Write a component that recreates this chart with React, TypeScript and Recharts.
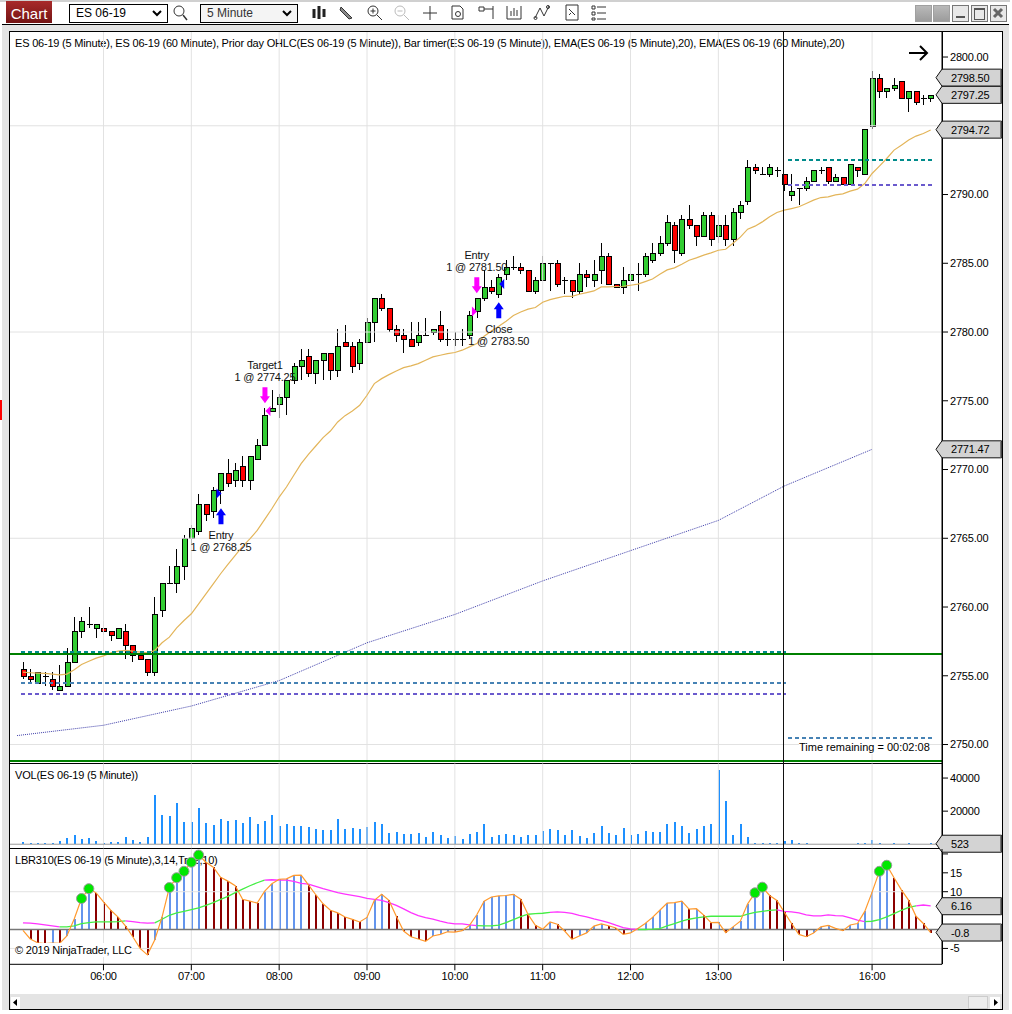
import React from "react";
import { ComposedChart, Bar, Line, XAxis, YAxis, ReferenceLine, ReferenceDot, Cell } from "recharts";

const opens = [2755.5,2755,2754.5,2755,2754.75,2754,2754.25,2756,2758.25,2758.75,2758.5,2758.5,2758.25,2757.75,2758.25,2757.25,2756.5,2756.25,2755.25,2759.75,2761.75,2761.75,2763,2765,2765.5,2767.5,2767,2768.5,2769.75,2769.25,2770.25,2769.25,2770.75,2771.75,2774.25,2774.75,2775.25,2776.5,2777.5,2778.25,2777,2778,2778.5,2777.25,2779.25,2779,2777.75,2779.25,2780.75,2782.5,2781.75,2780.25,2779.75,2779.5,2779.25,2779.75,2780,2780.5,2779.5,2779.5,2779.5,2779.75,2781.5,2782.5,2783.25,2782.75,2784.25,2784.75,2784.75,2784.5,2783,2783.75,2785,2785,2783.75,2783.75,2783,2784.25,2783.75,2784.5,2785.5,2783.5,2783.25,2783.75,2784.25,2784.25,2785.25,2785.75,2786.5,2787.75,2785.75,2788.25,2787.75,2787,2788.5,2787,2787.75,2786.75,2788.75,2789.5,2792,2791.5,2791.5,2791.75,2791.5,2790,2790.5,2790.5,2791,2791.75,2792,2791,2791.25,2790.75,2792,2791.5,2795,2798.5,2797.5,2797.75,2798.25,2797,2797.5,2797,2797];
const highs = [2756,2755.5,2755.25,2755.25,2755.25,2755.75,2757,2759.25,2759.25,2760,2758.75,2759,2758.25,2758.5,2758.75,2757.25,2756.5,2756.25,2760.75,2761.75,2763,2764.25,2765.25,2766,2768.25,2767.5,2768.75,2769.75,2770.75,2770.5,2771,2771,2772.25,2774.5,2775.75,2775.5,2776.5,2777.75,2778.75,2778.75,2778,2778.5,2778.5,2780.25,2780.5,2779.25,2779.5,2781,2782.5,2782.75,2781.75,2780.5,2780.25,2780.75,2780.75,2781,2780.25,2781.5,2780.25,2780,2780.25,2781.5,2782.5,2784.5,2783.75,2784.25,2785.25,2785.5,2785,2784.5,2784,2785.5,2785,2785.25,2784,2783.75,2785,2784.5,2785.25,2786.5,2785.75,2783.5,2784.75,2785,2785,2785.75,2786.5,2787,2788.5,2788,2788.5,2789.25,2787.75,2788.75,2788.75,2788.5,2788.5,2789,2789.5,2792.5,2792.25,2792,2792.25,2792,2791.5,2791.5,2790.5,2791.25,2791.75,2792,2792,2791.5,2791.25,2792.25,2792,2794.75,2799,2798.75,2797.75,2798.5,2798.25,2797.5,2797.5,2797.25,2797.25];
const lows = [2754.75,2754.5,2754.5,2754.25,2754,2754,2754.25,2756,2757.75,2758.5,2757.75,2758,2757.5,2757.75,2756.25,2756,2756.25,2755,2755,2759.25,2761.75,2761,2762,2764.5,2765.25,2766.25,2766.5,2767.5,2768.75,2768.75,2768.75,2768.5,2770.75,2771.75,2774.25,2773.75,2774,2776.25,2776.5,2776.75,2776.25,2776.5,2776.5,2776.75,2779,2777,2777.25,2779.25,2779.25,2781.5,2780,2779.25,2778.5,2779,2779,2779.75,2779.75,2779.25,2779,2779,2779,2779.5,2781,2782.25,2782.75,2782.5,2783.75,2784.5,2784.25,2783,2782.75,2783.75,2783,2783.25,2782.75,2782.5,2782.75,2783.25,2783.25,2783.5,2783.5,2783.25,2782.75,2782.75,2783,2784,2785,2785.5,2786.25,2785,2785.5,2787.5,2786.25,2787,2786.25,2786.5,2786.25,2786.25,2788.25,2789.25,2791.5,2791.5,2791.25,2791.25,2790.25,2789.5,2789.25,2790.25,2791,2791.5,2790.75,2791,2790.75,2790.75,2791.25,2791.5,2794.75,2797,2797,2797.5,2797,2796,2796.5,2796.5,2796.75];
const closes = [2755,2754.75,2755.25,2755,2754.25,2754.25,2756,2758.25,2759,2758.75,2758.75,2758.25,2758,2758.5,2757.25,2756.5,2756.25,2755.25,2759.5,2761.75,2761.75,2763,2765,2765.75,2767.5,2766.75,2768.5,2769.75,2769,2770,2769.25,2771,2771.75,2774,2774.5,2775.25,2776.5,2777.5,2778,2777,2778,2778.5,2777.25,2779,2779,2777.5,2779.25,2780.75,2782.5,2781.75,2780.25,2779.75,2779.5,2779,2779.75,2779.75,2780.25,2779.5,2779.5,2779.5,2779.5,2781.25,2782.5,2783.25,2783,2784,2784.75,2784.75,2784.5,2783,2783.75,2785,2785,2783.5,2783.75,2783,2784.25,2784,2784.25,2785.5,2783.5,2783.25,2783.75,2784.25,2784.25,2785.5,2785.75,2786.5,2788,2786,2788.25,2787.75,2787,2788.5,2786.75,2787.75,2786.75,2788.75,2789.25,2792,2791.75,2791.5,2792,2791.75,2790.75,2790.25,2790.5,2791,2791.75,2791.75,2791,2791.25,2790.75,2792.25,2791.75,2794.75,2798.5,2797.5,2797.75,2798,2797,2797.5,2796.75,2797,2797.25];
const ema5 = [2755.26,2755.22,2755.19,2755.17,2755.12,2755.07,2755.12,2755.44,2755.82,2756.06,2756.28,2756.45,2756.67,2756.79,2756.84,2756.79,2756.72,2756.67,2756.84,2757.4,2757.81,2758.49,2759.02,2759.51,2760.23,2760.96,2761.69,2762.42,2763.1,2763.75,2764.41,2764.96,2765.57,2766.35,2767.15,2768,2768.73,2769.58,2770.43,2771.11,2771.71,2772.32,2772.8,2773.46,2773.92,2774.26,2774.67,2775.4,2776.25,2776.61,2776.9,2777.17,2777.41,2777.54,2777.7,2777.95,2778.19,2778.31,2778.43,2778.51,2778.68,2778.92,2779.16,2779.69,2780.08,2780.42,2780.78,2781.2,2781.46,2781.66,2781.78,2782.17,2782.36,2782.48,2782.6,2782.6,2782.75,2782.87,2782.99,2783.28,2783.28,2783.31,2783.33,2783.4,2783.48,2783.67,2783.86,2784.2,2784.52,2784.67,2784.93,2785.22,2785.39,2785.59,2785.76,2785.95,2786.02,2786.46,2786.9,2787.48,2787.7,2788.01,2788.38,2788.69,2788.86,2788.98,2789.11,2789.35,2789.59,2789.78,2789.83,2789.98,2790.05,2790.25,2790.39,2790.8,2791.53,2792.07,2792.62,2793.23,2793.59,2793.96,2794.25,2794.44,2794.69];
const ema60Idx = [-0.8,11,23,35,47,59,71,83,95,104,116];
const ema60Val = [2750.65,2751.4,2752.8,2754.65,2757.4,2759.46,2761.9,2764.1,2766.3,2768.8,2771.47];
const volume = [1400,800,800,800,800,2000,3800,5600,3200,3800,2000,800,1400,1400,4400,2600,1400,4400,29600,17600,17000,24800,13400,13400,21800,12800,11600,15200,14000,14600,12800,16400,12200,14000,17600,11000,12200,11000,11000,10400,9200,8600,8600,15200,9200,9800,9200,10400,13400,12200,6800,7400,6200,6200,6800,4400,7400,5600,3800,5000,3200,6200,7400,12200,4400,5600,6200,5600,4400,5600,5600,8000,9200,8600,5600,8600,5000,3800,6800,11000,6800,5600,9800,5600,6200,8000,7400,7400,12000,13400,11000,6800,9200,11000,12200,44600,26000,5600,12200,4400,800,800,800,800,2000,2400,800,800,400,400,400,400,300,400,500,500,2600,800,400,800,400,800,400,400,523];
const lbr = [-0.2,-2.5,-3.5,-3.7,-3.6,-3.65,-1.7,2.8,8.2,10.8,9.7,7.3,5.1,3.3,1,-1.9,-5,-6.7,-2.8,3.3,11.1,13.7,15.4,17.8,19.7,17.8,16.5,13.8,12.8,11.6,8,7.5,7,10.1,12.1,13.3,13.4,14.3,14.4,11.8,9.2,6.8,5.1,4.4,3.3,2.7,2,3.2,7.7,9.3,7.7,3.5,-0.4,-1.9,-2.5,-3.1,-1.7,-1.3,-0.6,-0.7,-0.3,1.1,3.9,7.5,8.6,8.9,9,9.3,8,4,1.1,0.1,2,1.4,-0.4,-2.6,-1.7,-0.9,0.9,1.5,1,0.4,-1.3,-0.9,0.3,1.6,3.2,5.1,7,7.1,7.5,5.4,5.5,3.8,1.8,1.9,-0.8,0.7,2.2,6.8,9.7,11.2,9,7.7,4.6,1.6,-1.3,-1.9,-0.9,0.7,1.1,0.3,-0.3,1.2,1.6,4.8,9.9,15.4,17,13.7,10.5,7.7,3.5,1.6,-0.8];
const lbrSignal = [1.75,1.67,1.49,1.23,0.96,0.7,0.7,0.96,1.58,1.84,2.02,2.02,2.02,2.11,2.28,2.11,1.84,1.67,1.75,2.72,3.77,4.39,4.82,5.26,5.7,6.4,7.1,7.98,8.77,9.74,10.7,11.58,12.37,13.07,13.16,13.07,13.07,12.72,12.19,12.02,11.4,10.79,10.26,9.74,9.39,9.04,8.68,8.25,7.98,7.72,7.11,6.4,5.44,4.47,3.68,3.16,2.72,2.19,1.75,1.49,1.49,1.23,1.05,0.96,0.96,1.14,1.84,2.63,3.42,4.04,4.21,4.3,4.56,4.65,4.56,4.3,3.77,3.33,2.81,2.37,1.84,1.14,0.53,0.18,0,0,0.09,0.26,0.96,1.58,2.19,2.72,3.07,3.33,3.51,3.51,3.51,3.51,3.51,4.04,4.56,4.82,5.09,5.18,4.82,4.65,4.39,3.86,3.6,3.6,3.86,3.68,3.6,3.07,2.46,2.11,2.19,2.63,3.33,4.21,5.09,5.88,6.23,6.49,6.23];
const signalUpRanges = [[5,14],[18,33],[62,72],[84,103],[115,122]];
const dotBars = [8,9,20,21,22,23,24,100,101,117,118];

const hourTicks = [11,23,35,47,59,71,83,95,116];
const hourLabels = ["06:00","07:00","08:00","09:00","10:00","11:00","12:00","13:00","16:00"];
const priceTicks = [2750,2755,2760,2765,2770,2775,2780,2785,2790,2800];
const priceGrid = [2750,2765,2780,2795];
const volTicks = [20000,40000];
const lbrTicks = [-5,10,15,20];
const lbrGrid = [-5,10];

const priceFlags = [2798.5,2797.25,2794.72,2771.47];
const priceFlagText = ["2798.50","2797.25","2794.72","2771.47"];
const levelIdx = [[-0.27,104.2],[-0.27,104.2],[-0.27,104.2],[104.45,124.2],[104.45,124.2],[104.45,124.2]];
const levelVal = [2756.73,2754.5,2753.7,2792.5,2790.68,2750.5];
const levelCol = ["#008B8B","#4682B4","#6A5ACD","#008B8B","#6A5ACD","#4682B4"];
const solidLevels = [2756.55,2748.83];

const arrowIdx = [27.05,33.06,62,65];
const arrowVal = [2766.6,2775.4,2783.4,2781.58];
const arrowDir = ["up","down","down","up"];
const arrowCol = ["#0000FF","#FF00FF","#FF00FF","#0000FF"];
const triIdx = [26.78,33.47,61.68,65.4];
const triVal = [2768.25,2774.25,2781.5,2783.5];
const triDir = [1,-1,1,-1];
const tradeIdx = [27.05,33.06,62,65];
const tradeVal = [2764.77,2777.15,2785.15,2779.77];
const tradeName = ["Entry","Target1","Entry","Close"];
const tradeFill = ["1 @ 2768.25","1 @ 2774.25","1 @ 2781.50","1 @ 2783.50"];

const cursorIdx = 103.83;
const X_DOMAIN = [-1.77, 125.55];
const FONT = "'Liberation Sans', Arial, sans-serif";
const FS = 11;
const LS = "-0.2px";

const rows = opens.map((o, i) => {
  const up = signalUpRanges.some(([a, b]) => i >= a && i <= b);
  const dn = !signalUpRanges.some(([a, b]) => i > a && i < b);
  return {
    idx: i, open: o, high: highs[i], low: lows[i], close: closes[i],
    range: [lows[i], highs[i]], ema: ema5[i], vol: volume[i], lbr: lbr[i],
    sigUp: up ? lbrSignal[i] : null,
    sigDown: dn ? lbrSignal[i] : null,
    dot: dotBars.includes(i) ? lbr[i] : null,
  };
});
const ema60Rows = ema60Idx.map((idx, i) => ({ idx, ema60: ema60Val[i] }));

function Candle(props: any) {
  const { x, y, width, height, payload } = props;
  const { open, close, high, low } = payload;
  const k = high === low ? 0 : height / (high - low);
  const py = (v: number) => y + (high - v) * k;
  const cx = Math.round(x + width / 2) + 0.5;
  const top = Math.round(py(Math.max(open, close))) + 0.5;
  const bot = Math.round(py(Math.min(open, close))) + 0.5;
  const fill = close > open ? "#32CD32" : "#FF0000";
  return (
    <g shapeRendering="crispEdges">
      <line x1={cx} x2={cx} y1={y} y2={y + height} stroke="#000" strokeWidth={1} />
      {open === close
        ? <line x1={cx - 3} x2={cx + 3} y1={top} y2={top} stroke="#000" strokeWidth={1} />
        : <rect x={cx - 2.5} y={top} width={5} height={Math.max(bot - top, 1)} fill={fill} stroke="#000" strokeWidth={1} />}
    </g>
  );
}

function Flag(text: string) {
  return (props: any) => {
    const { cx, cy } = props;
    const h = 8.5;
    return (
      <g>
        <polygon points={`${cx - 6},${cy} ${cx},${cy - h} ${cx + 59.5},${cy - h} ${cx + 59.5},${cy + h} ${cx},${cy + h}`} fill="#D3D3D3" stroke="#111" strokeWidth={1} />
        <rect x={cx + 58} y={cy - h + 0.5} width={1.5} height={2 * h - 1} fill="#777" />
        <text x={cx + 9} y={cy + 4} fontFamily={FONT} fontSize={FS} fill="#000" style={{ letterSpacing: LS }}>{text}</text>
      </g>
    );
  };
}

function ArrowMark(dir: string, color: string) {
  return (props: any) => {
    const { cx, cy } = props;
    const s = dir === "up" ? 1 : -1;
    const pts = [[0, -8], [5, -1], [2.5, -1], [2.5, 8], [-2.5, 8], [-2.5, -1], [-5, -1]]
      .map(([a, b]) => `${cx + a},${cy + s * b}`).join(" ");
    return <polygon points={pts} fill={color} />;
  };
}

function TriMark(dir: number, color: string) {
  return (props: any) => {
    const { cx, cy } = props;
    return <polygon points={`${cx - 2.5 * dir},${cy - 5} ${cx + 2.5 * dir},${cy} ${cx - 2.5 * dir},${cy + 5}`} fill={color} />;
  };
}

function TradeText(a: string, b: string) {
  return (props: any) => {
    const { cx, cy } = props;
    return (
      <g fontFamily={FONT} fontSize={FS} fill="#111" textAnchor="middle" style={{ letterSpacing: LS }}>
        <text x={cx} y={cy - 2}>{a}</text>
        <text x={cx} y={cy + 10}>{b}</text>
      </g>
    );
  };
}

const tickStyle = { fontFamily: FONT, fontSize: FS, fill: "#000", style: { letterSpacing: LS } };
const W = 1012, H = 1014;

function abs(extra: any): React.CSSProperties {
  return { position: "absolute", ...extra };
}

function Label({ x, y, bg, ls = LS, children }: any) {
  return <div style={abs({ left: x, top: y, font: `${FS}px ${FONT}`, letterSpacing: ls, color: "#000", whiteSpace: "nowrap", lineHeight: "14px", background: bg })}>{children}</div>;
}

function Icon({ x, y = 4, w = 18, h = 17, children }: any) {
  return <svg style={abs({ left: x, top: y })} width={w} height={h} viewBox={`0 0 ${w} ${h}`} fill="none" stroke="#333" strokeWidth={1}>{children}</svg>;
}

function WinBtn({ x, solid, children }: any) {
  return (
    <div style={abs({ left: x, top: 5, width: 15, height: 15, background: solid ? "linear-gradient(#b9b9b9,#9c9c9c)" : "#e8e8e8", border: solid ? "1px solid #a0a0a0" : "1px solid #777" })}>{children}</div>
  );
}

function Chrome() {
  return (
    <>
      <div style={abs({ left: 0, top: 0, width: W, height: H, background: "#fff" })} />
      <div style={abs({ left: 0, top: 0, width: 1010, height: 2, background: "#d0d0d0" })} />
      <div style={abs({ left: 2, top: 24, width: 1007, height: 986, background: "#E4E4E4" })} />
      <div style={abs({ left: 0, top: 400, width: 2, height: 20, background: "#f00" })} />
      <div style={abs({ left: 2, top: 24, width: 1007, height: 1, background: "#000" })} />
      <div style={abs({ left: 9, top: 31, width: 994, height: 963, background: "#fff", borderLeft: "1px solid #000", borderTop: "1px solid #000", borderRight: "1px solid #000", boxSizing: "border-box" })} />
      <div style={abs({ left: 9, top: 1009, width: 994, height: 1, background: "#000" })} />
      <div style={abs({ left: 9, top: 994, width: 1, height: 16, background: "#000" })} />
      <div style={abs({ left: 1002, top: 994, width: 1, height: 16, background: "#000" })} />
      <div style={abs({ left: 10, top: 763, width: 932, height: 1, background: "#000" })} />
      <div style={abs({ left: 10, top: 848, width: 932, height: 1, background: "#000" })} />
      <div style={abs({ left: 942, top: 32, width: 1, height: 932, background: "#000" })} />

      <div style={abs({ left: 6, top: 1, width: 46, height: 22, background: "linear-gradient(#a82a2a,#741414)", color: "#fff", font: `15px ${FONT}`, lineHeight: "25px", textAlign: "center" })}>Chart</div>
      <div style={abs({ left: 69, top: 4, width: 99, height: 19, border: "1px solid #000", boxSizing: "border-box", font: `12px ${FONT}`, lineHeight: "17px", paddingLeft: 6 })}>ES 06-19</div>
      <div style={abs({ left: 200, top: 4, width: 98, height: 19, border: "1px solid #000", boxSizing: "border-box", font: `12px ${FONT}`, lineHeight: "17px", paddingLeft: 6, color: "#333", background: "#f4f4f4" })}>5 Minute</div>
      <Icon x={151} y={10} w={12} h={8}><path d="M2 1 L6 5 L10 1" strokeWidth={2} stroke="#000" /></Icon>
      <Icon x={281} y={10} w={12} h={8}><path d="M2 1 L6 5 L10 1" strokeWidth={2} stroke="#000" /></Icon>
      <Icon x={172}><circle cx={7} cy={7} r={5} /><path d="M11 11 L15 16" strokeWidth={1.5} /></Icon>
      <Icon x={311}><path d="M3 5V14M8 2V15M13 5V13" stroke="#222" strokeWidth={3} /></Icon>
      <Icon x={338}><path d="M3 3 L14 14 L11 15 L2 6 Z" fill="#888" /></Icon>
      <Icon x={366}><circle cx={7} cy={7} r={5} /><path d="M4.5 7H9.5M7 4.5V9.5M11 11 L16 16" /></Icon>
      <Icon x={393}><g stroke="#bbb"><circle cx={7} cy={7} r={5} /><path d="M4.5 7H9.5M11 11 L16 16" /></g></Icon>
      <Icon x={421}><path d="M9 2V16M2 9H16" /></Icon>
      <Icon x={449}><path d="M3 2H11L14 5V15H3Z" /><circle cx={9} cy={10} r={2.5} /></Icon>
      <Icon x={477}><path d="M2 3H7V7H2ZM7 5H16M16 2V15" /></Icon>
      <Icon x={505}><path d="M2 2V15H16V2M6 12V7M9 12V4M12 12V6" /></Icon>
      <Icon x={533}><path d="M2 14 L7 4 L11 12 L16 2" /><circle cx={2.5} cy={14} r={1.5} /><circle cx={15} cy={3} r={1.5} /></Icon>
      <Icon x={564}><path d="M2 1H14V16H2Z" /><path d="M5 5L11 11M5 11L7 9" /></Icon>
      <Icon x={590}><path d="M2 2H5V5H2ZM2 8H5V11H2ZM2 14H5V16H2ZM7 3H16M7 9H16M7 15H16" /></Icon>
      <WinBtn x={915} solid />
      <WinBtn x={933} solid />
      <WinBtn x={952}><div style={abs({ left: 3, top: 10, width: 9, height: 2, background: "#555" })} /></WinBtn>
      <WinBtn x={971}><div style={abs({ left: 2, top: 2, width: 9, height: 9, border: "1px solid #555", borderTopWidth: 2 })} /></WinBtn>
      <WinBtn x={990}><Icon x={1} y={1} w={13} h={13}><path d="M2 2L10 10M10 2L2 10" strokeWidth={3} stroke="#666" /></Icon></WinBtn>

      <div style={abs({ left: 10, top: 994, width: 992, height: 15, background: "#E4E4E4" })} />
      <div style={abs({ left: 11, top: 997, width: 9, height: 12, background: "#fff" })}><Icon x={2} y={2} w={6} h={8}><path d="M4 0V7L0 3.5Z" fill="#000" stroke="none" /></Icon></div>
      <div style={abs({ left: 968, top: 996, width: 20, height: 13, background: "#ececec", border: "1px solid #ccc", boxSizing: "border-box" })} />
      <div style={abs({ left: 990, top: 997, width: 10, height: 12, background: "#fff" })}><Icon x={3} y={2} w={6} h={8}><path d="M1 0V7L5 3.5Z" fill="#000" stroke="none" /></Icon></div>
      <Icon x={908} y={45} w={22} h={16}><path d="M1 8H19M12 1L19 8L12 15" stroke="#000" strokeWidth={2} /></Icon>

      <Label x={15} y={36}>ES 06-19 (5 Minute), ES 06-19 (60 Minute), Prior day OHLC(ES 06-19 (5 Minute)), Bar timer(ES 06-19 (5 Minute)), EMA(ES 06-19 (5 Minute),20), EMA(ES 06-19 (60 Minute),20)</Label>
      <Label x={15} y={768}>VOL(ES 06-19 (5 Minute))</Label>
      <Label x={15} y={853}>LBR310(ES 06-19 (5 Minute),3,14,True,10)</Label>
    </>
  );
}

const gridLine = "#E2E2E2";
const vGrid = hourTicks.map((t) => <ReferenceLine key={`v${t}`} x={t} stroke={gridLine} strokeWidth={1} />);
const xAxisHidden = <XAxis dataKey="idx" type="number" domain={X_DOMAIN} allowDataOverflow hide ticks={hourTicks} />;

export default function App() {
  return (
    <div style={abs({ left: 0, top: 0, width: W, height: H, overflow: "hidden" })}>
      <Chrome />
      {/* Price panel */}
      <div style={abs({ left: 0, top: 0 })}>
        <ComposedChart width={W} height={H} data={rows} margin={{ top: 32, right: 10, bottom: 250.5, left: 10 }}>
          {xAxisHidden}
          <YAxis orientation="right" width={60} domain={[2748.62, 2801.82]} allowDataOverflow ticks={priceTicks} tickFormatter={(v: number) => v.toFixed(2)} tick={tickStyle} tickLine={{ stroke: "#000" }} tickSize={6} axisLine={{ stroke: "#000" }} />
          {vGrid}
          {priceGrid.map((v) => <ReferenceLine key={`g${v}`} y={v} stroke={gridLine} strokeWidth={1} />)}
          <Line data={ema60Rows} dataKey="ema60" stroke="#3c3ca8" strokeWidth={1} strokeDasharray="1 1" dot={false} isAnimationActive={false} connectNulls />
          <Bar dataKey="range" barSize={6} shape={Candle} isAnimationActive={false} />
          <Line dataKey="ema" stroke="#E3B55A" strokeWidth={1.2} dot={false} isAnimationActive={false} />
          {levelVal.map((v, i) => (
            <ReferenceLine key={`l${i}`} segment={[{ x: levelIdx[i][0], y: v }, { x: levelIdx[i][1], y: v }]} stroke={levelCol[i]} strokeWidth={2} strokeDasharray="4.5 2.5" shapeRendering="crispEdges" />
          ))}
          {solidLevels.map((v) => <ReferenceLine key={`s${v}`} y={v} stroke="#008000" strokeWidth={2} shapeRendering="crispEdges" />)}
          <ReferenceLine x={cursorIdx} stroke="#111" strokeWidth={1} shapeRendering="crispEdges" />
          {arrowIdx.map((x, i) => <ReferenceDot key={`a${i}`} x={x} y={arrowVal[i]} ifOverflow="visible" shape={ArrowMark(arrowDir[i], arrowCol[i])} />)}
          {triIdx.map((x, i) => <ReferenceDot key={`t${i}`} x={x} y={triVal[i]} ifOverflow="visible" shape={TriMark(triDir[i], arrowCol[i])} />)}
          {tradeIdx.map((x, i) => <ReferenceDot key={`x${i}`} x={x} y={tradeVal[i]} ifOverflow="visible" shape={TradeText(tradeName[i], tradeFill[i])} />)}
          {priceFlags.map((v, i) => <ReferenceDot key={`f${i}`} x={X_DOMAIN[1]} y={v} ifOverflow="visible" shape={Flag(priceFlagText[i])} />)}
        </ComposedChart>
      </div>
      {/* Volume panel */}
      <div style={abs({ left: 0, top: 0 })}>
        <ComposedChart width={W} height={H} data={rows} margin={{ top: 764, right: 10, bottom: 165.7, left: 10 }}>
          {xAxisHidden}
          <YAxis orientation="right" width={60} domain={[-2460, 48500]} allowDataOverflow ticks={volTicks} tick={tickStyle} tickLine={{ stroke: "#000" }} tickSize={6} axisLine={{ stroke: "#000" }} />
          {vGrid}
          <ReferenceLine y={0} stroke="#999" strokeWidth={1} />
          <Bar dataKey="vol" barSize={2} fill="#1E90FF" shapeRendering="crispEdges" isAnimationActive={false} />
          <ReferenceLine x={cursorIdx} stroke="#111" strokeWidth={1} shapeRendering="crispEdges" />
          <ReferenceDot x={X_DOMAIN[1]} y={300} ifOverflow="visible" shape={Flag("523")} />
        </ComposedChart>
      </div>
      {/* LBR panel */}
      <div style={abs({ left: 0, top: 0 })}>
        <ComposedChart width={W} height={H} data={rows} margin={{ top: 849, right: 10, bottom: 19.7, left: 10 }}>
          <XAxis dataKey="idx" type="number" domain={X_DOMAIN} allowDataOverflow ticks={hourTicks} height={30} tickFormatter={(v: number) => hourLabels[hourTicks.indexOf(v)]} tick={tickStyle} tickLine={{ stroke: "#000" }} tickSize={6} axisLine={{ stroke: "#000" }} />
          <YAxis orientation="right" width={60} domain={[-9.2, 21.3]} allowDataOverflow ticks={lbrTicks} tickFormatter={(v: number) => (v === 20 ? "" : String(v))} tick={tickStyle} tickLine={{ stroke: "#000" }} tickSize={6} axisLine={{ stroke: "#000" }} />
          {vGrid}
          {lbrGrid.map((v) => <ReferenceLine key={`g${v}`} y={v} stroke={gridLine} strokeWidth={1} />)}
          <ReferenceLine y={0} stroke="#777" strokeWidth={1.5} />
          <Bar dataKey="lbr" barSize={2} shapeRendering="crispEdges" isAnimationActive={false}>
            {rows.map((r, i) => <Cell key={i} fill={i > 0 && lbr[i] > lbr[i - 1] ? "#6495ED" : "#8B0000"} />)}
          </Bar>
          <Line dataKey="sigDown" stroke="#FF33FF" strokeWidth={1.3} dot={false} isAnimationActive={false} />
          <Line dataKey="sigUp" stroke="#44EE44" strokeWidth={1.3} dot={false} isAnimationActive={false} />
          <Line dataKey="lbr" stroke="#FF9A2E" strokeWidth={1.2} dot={false} isAnimationActive={false} />
          <Line dataKey="dot" stroke="none" dot={{ r: 5, fill: "#00E800", stroke: "#9a9a9a", strokeWidth: 1 }} isAnimationActive={false} />
          <ReferenceLine segment={[{ x: cursorIdx, y: -8.4 }, { x: cursorIdx, y: 21.3 }]} stroke="#111" strokeWidth={1} shapeRendering="crispEdges" />
          <ReferenceDot x={X_DOMAIN[1]} y={6.16} ifOverflow="visible" shape={Flag("6.16")} />
          <ReferenceDot x={X_DOMAIN[1]} y={-0.8} ifOverflow="visible" shape={Flag("-0.8")} />
        </ComposedChart>
      </div>
      <Label x={799} y={740} bg="#fff" ls="0px">Time remaining = 00:02:08</Label>
      <Label x={15} y={943} bg="#fff">© 2019 NinjaTrader, LLC</Label>
    </div>
  );
}
